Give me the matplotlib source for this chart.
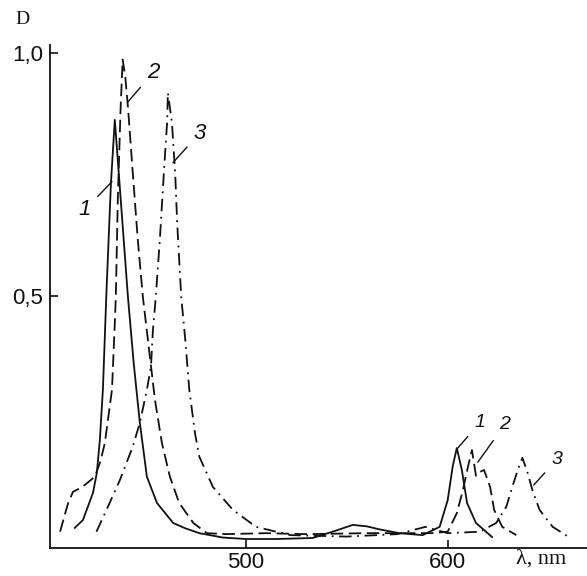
import matplotlib
matplotlib.use("Agg")
import matplotlib.pyplot as plt

plt.rcParams.update({
    "font.size": 12,
    "lines.scale_dashes": False,
})

INK = "#111111"
TICKFONT = ["Liberation Sans Narrow", "Liberation Sans", "DejaVu Sans"]
SERIF = ["Liberation Serif", "DejaVu Serif"]

# curve 1 (solid)
wl1 = [415.3, 419.3, 424.3, 426.2, 427.7, 429.2, 431.0, 433.2, 435.1, 438.0, 441.6,
       444.5, 447.5, 451.0, 456.0, 464.0, 470.0, 477.0, 488.6, 500.0, 515.0, 533.0,
       543.0, 553.0, 560.0, 566.0, 576.0, 587.6, 596.0, 600.0, 602.5, 604.5, 607.0,
       609.6, 614.0, 622.0]
d1 = [0.023, 0.039, 0.095, 0.136, 0.204, 0.307, 0.512, 0.733, 0.862, 0.700, 0.498,
      0.360, 0.239, 0.128, 0.074, 0.033, 0.022, 0.012, 0.003, 0.000, 0.000, 0.002,
      0.015, 0.029, 0.026, 0.020, 0.012, 0.008, 0.025, 0.080, 0.150, 0.187, 0.142,
      0.074, 0.033, 0.004]

# curve 2 (dashed)
wl2 = [408.0, 410.0, 412.0, 414.4, 419.0, 425.2, 428.0, 430.2, 433.7, 435.1, 435.6,
       436.6, 438.0, 439.0, 440.3, 441.6, 444.0, 446.5, 449.0, 452.5, 455.0, 458.4,
       462.4, 467.0, 474.0, 480.7, 490.0, 510.0, 530.0, 560.0, 580.0, 592.0, 600.0,
       604.5, 607.5, 610.0, 612.0, 614.0, 616.0, 618.0, 621.0, 623.0, 627.0, 634.0]
d2 = [0.015, 0.045, 0.074, 0.097, 0.107, 0.128, 0.160, 0.198, 0.307, 0.444, 0.498,
      0.700, 0.889, 0.986, 0.950, 0.889, 0.753, 0.615, 0.498, 0.374, 0.286, 0.198,
      0.128, 0.074, 0.033, 0.012, 0.010, 0.012, 0.010, 0.012, 0.012, 0.012, 0.015,
      0.053, 0.100, 0.148, 0.183, 0.130, 0.138, 0.142, 0.107, 0.060, 0.025, 0.008]

# curve 3 (dash-dot)
wl3 = [426.0, 431.0, 437.6, 444.0, 447.5, 451.0, 453.0, 454.0, 455.4, 457.4, 459.4,
       461.0, 461.4, 463.4, 465.0, 466.0, 468.0, 470.0, 472.0, 474.8, 477.0, 483.7,
       493.6, 505.0, 522.0, 550.0, 575.0, 589.0, 600.0, 616.0, 624.0, 629.0, 632.0,
       634.7, 637.0, 639.6, 642.0, 645.5, 652.0, 660.0]
d3 = [0.015, 0.060, 0.121, 0.190, 0.239, 0.307, 0.354, 0.430, 0.498, 0.615, 0.753,
      0.856, 0.918, 0.856, 0.753, 0.650, 0.498, 0.410, 0.307, 0.218, 0.169, 0.107,
      0.060, 0.025, 0.008, 0.005, 0.010, 0.025, 0.012, 0.015, 0.033, 0.066, 0.107,
      0.142, 0.167, 0.136, 0.100, 0.060, 0.025, 0.004]

xticks = [500, 600]
yticks = [0.5, 1.0]
yticklabels = ["0,5", "1,0"]

fig = plt.figure(figsize=(5.87, 5.76), dpi=100)
ax = fig.add_axes([50 / 587, 28 / 576, 537 / 587, 503 / 576])

ax.plot(wl1, d1, color=INK, lw=1.3, solid_joinstyle="round")
ax.plot(wl2, d2, color=INK, lw=1.3, dashes=[9, 4])
ax.plot(wl3, d3, color=INK, lw=1.3, dashes=[9, 4, 1.3, 4])

ax.set_xlim(403, 669)
ax.set_ylim(-0.0185, 1.016)
for s in ["top", "right"]:
    ax.spines[s].set_visible(False)
for s in ["left", "bottom"]:
    ax.spines[s].set_linewidth(1.3)
    ax.spines[s].set_color(INK)

ax.set_xticks(xticks)
ax.set_xticklabels([str(t) for t in xticks], family=TICKFONT, fontsize=16)
ax.set_yticks(yticks)
ax.set_yticklabels(yticklabels, family=TICKFONT, fontsize=16)
ax.tick_params(direction="in", length=6, width=1.2, color=INK, labelcolor=INK)
ax.tick_params(axis="x", pad=3)
ax.tick_params(axis="y", pad=5)

# curve labels with leader lines
labels = [
    ("1", (433.7, 0.735), (420.3, 0.677), 16),
    ("2", (441.6, 0.899), (454.0, 0.959), 16),
    ("3", (463.9, 0.774), (477.2, 0.835), 16),
    ("1", (605.0, 0.187), (615.8, 0.239), 14),
    ("2", (614.9, 0.158), (628.2, 0.235), 14),
    ("3", (642.6, 0.111), (654.0, 0.163), 14),
]
for txt, xy, xytext, fs in labels:
    ax.annotate(txt, xy=xy, xytext=xytext, ha="center", va="center",
                fontsize=fs, style="italic", color=INK, family=TICKFONT,
                arrowprops=dict(arrowstyle="-", color=INK, lw=1.0,
                                shrinkA=4, shrinkB=0))

fig.text(22 / 587, 1 - 20 / 576, "D", ha="center", va="center",
         fontsize=14, family=SERIF, color=INK)
fig.text(541 / 587, 1 - 559 / 576, "λ, nm", ha="center", va="center",
         fontsize=16, family=SERIF, color=INK)

fig.savefig("out.png", dpi=100, facecolor="white")
